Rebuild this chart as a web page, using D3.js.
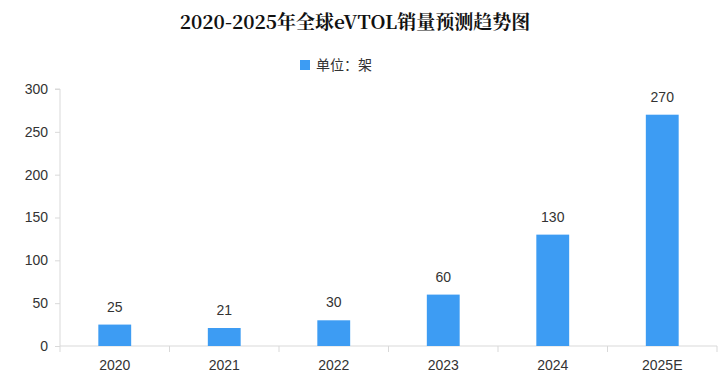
<!DOCTYPE html>
<html>
<head>
<meta charset="utf-8">
<script src="https://cdn.jsdelivr.net/npm/d3@7"></script>
<style>
  html, body { margin: 0; padding: 0; background: #fff; }
  text { font-family: "Liberation Sans", "Noto Sans CJK SC", sans-serif; }
</style>
</head>
<body>
<div id="chart"></div>
<script>
let years = ['2020', '2021', '2022', '2023', '2024', '2025E'];
let sales = [25, 21, 30, 60, 130, 270];
let yTicks = [0, 50, 100, 150, 200, 250, 300];
let title = '2020-2025年全球eVTOL销量预测趋势图';
let legendLabel = '单位：架';

let width = 728;
let height = 389;
let margin = { top: 89, right: 11, bottom: 43, left: 60 };
let barColor = '#3d9cf3';
let axisColor = '#d9d9d9';

let svg = d3.select('#chart').append('svg')
  .attr('width', width)
  .attr('height', height);

let x = d3.scaleBand()
  .domain(years)
  .range([margin.left, width - margin.right]);

let y = d3.scaleLinear()
  .domain([0, 300])
  .range([height - margin.bottom, margin.top]);

// title
svg.append('text')
  .attr('x', 355)
  .attr('y', 29)
  .attr('text-anchor', 'middle')
  .style('font-family', '"Noto Serif CJK SC", "Noto Sans CJK SC", serif')
  .style('font-size', '19px')
  .style('font-weight', 'bold')
  .style('fill', '#111')
  .text(title);

// legend
svg.append('rect')
  .attr('x', 300)
  .attr('y', 60)
  .attr('width', 10)
  .attr('height', 10)
  .style('fill', barColor);

svg.append('text')
  .attr('x', 316)
  .attr('y', 70)
  .style('font-family', '"Noto Sans CJK SC", sans-serif')
  .style('font-size', '14px')
  .style('fill', '#333')
  .text(legendLabel);

// y axis
let yAxis = svg.append('g')
  .attr('transform', `translate(${margin.left},0)`)
  .call(d3.axisLeft(y).tickValues(yTicks).tickSize(5).tickPadding(7));

yAxis.selectAll('line, path').style('stroke', axisColor);
yAxis.select('.domain').attr('d', `M-5,${y(300)}H0V${y(0)}`);
yAxis.selectAll('text')
  .style('font-size', '14px')
  .style('fill', '#333');

// x axis
let xAxis = svg.append('g')
  .attr('transform', `translate(0,${y(0)})`)
  .call(d3.axisBottom(x).tickSize(0).tickPadding(14));

xAxis.select('.domain').style('stroke', axisColor).attr('d', `M${margin.left},0H${width - margin.right}`);
xAxis.selectAll('text')
  .style('font-size', '14px')
  .style('fill', '#333');

// band boundary ticks
xAxis.selectAll('line.edge')
  .data(years.map(d => x(d)).concat([x(years[years.length - 1]) + x.bandwidth()]))
  .enter()
  .append('line')
  .classed('edge', true)
  .attr('x1', d => d)
  .attr('x2', d => d)
  .attr('y1', 0)
  .attr('y2', 6)
  .style('stroke', axisColor);

// bars
let barW = x.bandwidth() * 0.3;

svg.append('g')
  .selectAll('rect')
  .data(sales)
  .enter()
  .append('rect')
  .attr('x', (d, i) => x(years[i]) + (x.bandwidth() - barW) / 2)
  .attr('y', d => y(d))
  .attr('width', barW)
  .attr('height', d => y(0) - y(d))
  .style('fill', barColor);

// value labels
svg.append('g')
  .selectAll('text')
  .data(sales)
  .enter()
  .append('text')
  .attr('x', (d, i) => x(years[i]) + x.bandwidth() / 2)
  .attr('y', d => y(d) - 13)
  .attr('text-anchor', 'middle')
  .style('font-size', '14px')
  .style('fill', '#333')
  .text(d => d);
</script>
</body>
</html>
